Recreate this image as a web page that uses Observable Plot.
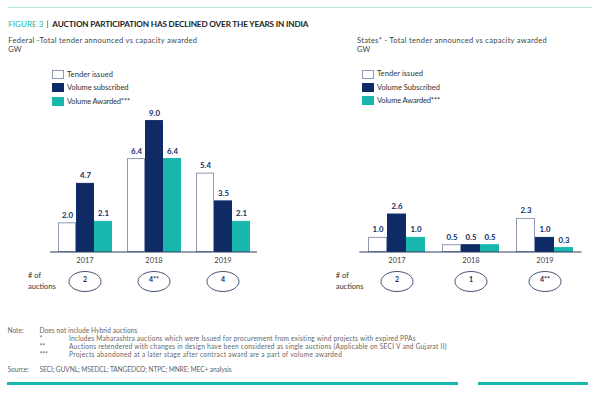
<!DOCTYPE html>
<html>
<head>
<meta charset="utf-8">
<script src="https://cdn.jsdelivr.net/npm/d3@7"></script>
<script src="https://cdn.jsdelivr.net/npm/@observablehq/plot@0.6"></script>
<style>
  html, body { margin: 0; padding: 0; background: #fff; overflow: hidden; }
  #root { position: relative; width: 600px; height: 394px; overflow: hidden; font-family: Lato, "Open Sans", sans-serif; color: #333; }
  .abs { position: absolute; white-space: nowrap; line-height: 1; }
  .plotbox { position: absolute; top: 0; width: 300px; height: 300px; }
  .bar { position: absolute; z-index: 5; }
</style>
</head>
<body>
<div id="root"></div>
<script>
// ---------- data ----------
const years = ["2017", "2018", "2019"];
const series = ["Tender issued", "Volume subscribed", "Volume Awarded***"];
const seriesStates = ["Tender issued", "Volume Subscribed", "Volume Awarded***"];
const federalTender = [2.0, 6.4, 5.4];
const federalSubscribed = [4.7, 9.0, 3.5];
const federalAwarded = [2.1, 6.4, 2.1];
const statesTender = [1.0, 0.5, 2.3];
const statesSubscribed = [2.6, 0.5, 1.0];
const statesAwarded = [1.0, 0.5, 0.3];
const federalAuctions = ["2", "4**", "4"];
const statesAuctions = ["2", "1", "4**"];
const colors = ["#ffffff", "#0f2b66", "#19b6ae"];
const strokes = ["#8f98b6", "#0f2b66", "#19b6ae"];

const root = document.getElementById("root");

function rowsOf(tender, sub, awd) {
  const out = [];
  years.forEach((y, i) => {
    out.push({year: y, k: 0, value: tender[i]});
    out.push({year: y, k: 1, value: sub[i]});
    out.push({year: y, k: 2, value: awd[i]});
  });
  return out;
}

const ellipse = {
  draw(context, size) {
    const r = Math.sqrt(size / Math.PI);
    const rx = r * 1.6, ry = r, k = 0.5523;
    context.moveTo(rx, 0);
    context.bezierCurveTo(rx, ry * k, rx * k, ry, 0, ry);
    context.bezierCurveTo(-rx * k, ry, -rx, ry * k, -rx, 0);
    context.bezierCurveTo(-rx, -ry * k, -rx * k, -ry, 0, -ry);
    context.bezierCurveTo(rx * k, -ry, rx, -ry * k, rx, 0);
    context.closePath();
  }
};

function chart(rows, auctions, mLeft, mRight, halfGap) {
  const aData = years.map((y, i) => ({year: y, n: auctions[i]}));
  return Plot.plot({
    width: 300,
    height: 300,
    marginLeft: mLeft,
    marginRight: mRight,
    marginTop: 105.5,
    marginBottom: 48.5,
    style: {fontFamily: "Lato, 'Open Sans', sans-serif", fontSize: "7.5px", color: "#444", background: "transparent", overflow: "visible"},
    fx: {domain: years, paddingInner: 0.2, paddingOuter: 0.1, label: null, axis: "bottom", tickSize: 0, tickPadding: 6},
    x: {domain: [0, 1, 2], padding: 0, axis: null},
    y: {domain: [0, 10], axis: null},
    marks: [
      Plot.barY(rows, {fx: "year", x: "k", y: "value", fill: d => colors[d.k], stroke: d => strokes[d.k], strokeWidth: 1, insetTop: 0.5, insetLeft: 0.5, insetRight: 0.5}),
      Plot.ruleY([0], {stroke: "#2b3a5c", strokeWidth: 1.2, insetLeft: -halfGap, insetRight: -halfGap}),
      Plot.text(rows, {fx: "year", x: "k", y: "value", text: d => d.value.toFixed(1), dy: -7.5, fontWeight: "bold", fill: "#0f2b66", fontSize: 7.8}),
      Plot.dot(aData, {fx: "year", frameAnchor: "bottom", dy: 29.5, r: 10, symbol: ellipse, stroke: "#2f3d63", strokeWidth: 0.9, fill: "none"}),
      Plot.text(aData, {fx: "year", frameAnchor: "bottom", dy: 29.5, text: "n", fill: "#1d2b50", fontWeight: "bold", fontSize: 7})
    ]
  });
}

const left = document.createElement("div");
left.className = "plotbox"; left.style.left = "0px";
left.appendChild(chart(rowsOf(federalTender, federalSubscribed, federalAwarded), federalAuctions, 50, 42, 7));
root.appendChild(left);

const right = document.createElement("div");
right.className = "plotbox"; right.style.left = "300px";
right.appendChild(chart(rowsOf(statesTender, statesSubscribed, statesAwarded), statesAuctions, 59, 17, 7.6));
root.appendChild(right);

// ---------- text & decorations ----------
function txt(s, x, y, opts = {}) {
  const d = document.createElement("div");
  d.className = "abs";
  d.textContent = s;
  d.style.left = x + "px";
  const fs = opts.size || 7.5;
  d.style.fontSize = fs + "px";
  d.style.top = (y - fs / 2) + "px";
  if (opts.weight) d.style.fontWeight = opts.weight;
  if (opts.color) d.style.color = opts.color;
  root.appendChild(d);
  if (opts.w) {
    const w = d.getBoundingClientRect().width;
    const n = s.length;
    d.style.letterSpacing = ((opts.w - w) / n) + "px";
  }
  return d;
}
function box(x, y, w, h, bg) {
  const d = document.createElement("div");
  d.className = "bar";
  d.style.left = x + "px"; d.style.top = y + "px";
  d.style.width = w + "px"; d.style.height = h + "px";
  d.style.background = bg;
  root.appendChild(d);
  return d;
}

box(8, 6.5, 584, 1, "#b8e2df");
txt("FIGURE 3", 8.3, 24, {size: 8, color: "#19b6ae", w: 35});
txt("|", 46.5, 24, {size: 8, color: "#222"});
txt("AUCTION PARTICIPATION HAS DECLINED OVER THE YEARS IN INDIA", 52.3, 24, {size: 8.2, weight: "bold", color: "#1e1e1e", w: 256});

txt("Federal -Total tender announced vs capacity awarded", 8.3, 41, {size: 7.5, color: "#444", w: 189});
txt("GW", 8.3, 49.5, {size: 7.5, color: "#444"});
txt("States* - Total tender announced vs capacity awarded", 357, 41, {size: 7.5, color: "#444", w: 190});
txt("GW", 357, 49.5, {size: 7.5, color: "#444"});

function legend(x0, y0s, labels, ws) {
  labels.forEach((lab, i) => {
    const s = box(x0, y0s[i], 12, 9, colors[i]);
    s.style.boxSizing = "border-box";
    if (i === 0) s.style.border = "1px solid " + strokes[0];
    txt(lab, x0 + 15.5, y0s[i] + 4.6, {size: 7.5, color: "#333", w: ws[i]});
  });
}
legend(51.5, [70, 82.8, 96.8], series, [46, 61.5, 63]);
legend(361.5, [69.6, 82.8, 96.2], seriesStates, [46, 63, 63]);

txt("# of", 28, 276, {size: 7.5, color: "#333"});
txt("auctions", 28, 286.7, {size: 7.5, color: "#333"});
txt("# of", 335.7, 276, {size: 7.5, color: "#333"});
txt("auctions", 335.7, 286.7, {size: 7.5, color: "#333"});

const nc = "#666", ns = 6.6;
txt("Note:", 7.5, 330.7, {size: ns, color: nc});
txt("Does not include Hybrid auctions", 39.5, 330.7, {size: ns, color: nc, w: 98});
txt("*", 39.5, 338.5, {size: ns, color: nc});
txt("Includes Maharashtra auctions which were Issued for procurement from existing wind projects with expired PPAs", 69, 338.5, {size: ns, color: nc, w: 347});
txt("**", 39.5, 346.4, {size: ns, color: nc});
txt("Auctions retendered with changes in design have been considered as single auctions (Applicable on SECI V and Gujarat II)", 69, 346.4, {size: ns, color: nc, w: 378});
txt("***", 39.5, 354.3, {size: ns, color: nc});
txt("Projects abandoned at a later stage after contract award are a part of volume awarded", 69, 354.3, {size: ns, color: nc, w: 273});
txt("Source:", 7.5, 369.3, {size: ns, color: nc});
txt("SECI; GUVNL; MSEDCL; TANGEDCO; NTPC; MNRE; MEC+ analysis", 39.5, 369.3, {size: ns, color: nc, w: 192});

box(7, 382, 451, 3, "#19b6ae");
box(478, 382, 110, 3, "#19b6ae");
</script>
</body>
</html>
